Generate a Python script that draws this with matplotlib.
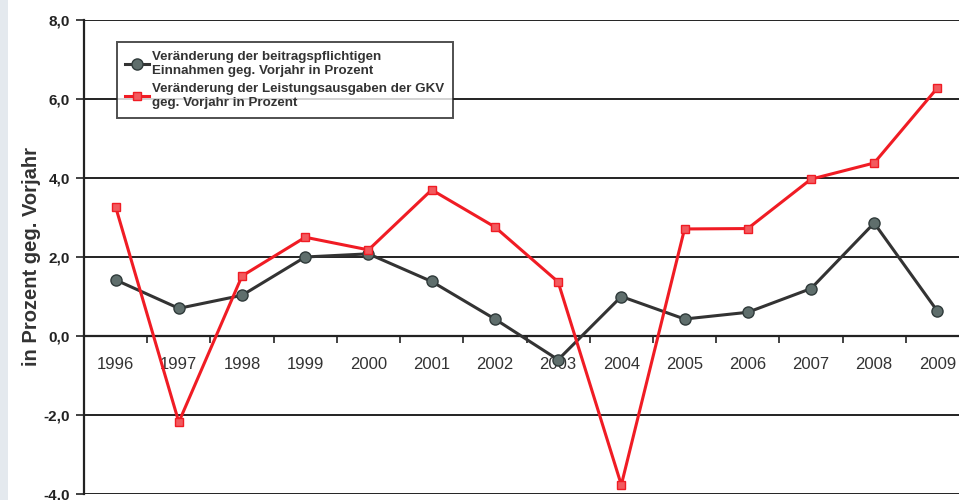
import numpy as np
import matplotlib
matplotlib.use('Agg')
import matplotlib.pyplot as plt
import matplotlib.patches as patches

plt.rcParams['font.family'] = ['Liberation Sans', 'DejaVu Sans']

# data
years = ['1996', '1997', '1998', '1999', '2000', '2001', '2002',
         '2003', '2004', '2005', '2006', '2007', '2008', '2009']
einnahmen = [1.42, 0.70, 1.03, 2.00, 2.08, 1.38, 0.43,
             -0.60, 1.00, 0.43, 0.60, 1.20, 2.86, 0.63]
ausgaben = [3.27, -2.18, 1.52, 2.50, 2.18, 3.70, 2.76,
            1.37, -3.77, 2.71, 2.72, 3.97, 4.38, 6.28]
yticks = [-4, -2, 0, 2, 4, 6, 8]
ytick_labels = ['-4,0', '-2,0', '0,0', '2,0', '4,0', '6,0', '8,0']
label_ein = 'Veränderung der beitragspflichtigen\nEinnahmen geg. Vorjahr in Prozent'
label_aus = 'Veränderung der Leistungsausgaben der GKV\ngeg. Vorjahr in Prozent'

fig = plt.figure(figsize=(9.59, 5.0), dpi=100)
# pale strip on the left edge of the scan
fig.patches.append(patches.Rectangle((0, 0), 8 / 959., 1, transform=fig.transFigure,
                                     facecolor='#e4e9ee', edgecolor='none', zorder=0))

# axes run past the right edge like in the cropped scan
ax = fig.add_axes([84 / 959., 6 / 500., 885 / 959., 474 / 500.])
x = np.arange(len(years))

for yv in yticks:
    if yv != 0:
        ax.axhline(yv, color='#222222', lw=1.4, zorder=1)

ax.plot(x, einnahmen, color='#333333', lw=2.2, marker='o', ms=8,
        markerfacecolor='#5f6e6c', markeredgecolor='#2f3a3a', label=label_ein, zorder=3)
ax.plot(x, ausgaben, color='#f01c24', lw=2.2, marker='s', ms=6,
        markerfacecolor='#f25a5e', markeredgecolor='#f01c24', label=label_aus, zorder=4)

ax.set_xlim(-0.5, len(years) - 0.5)
ax.set_ylim(-4, 8)
ax.set_yticks(yticks)
ax.set_yticklabels(ytick_labels, fontsize=11, fontweight='bold', color='#222222')
ax.tick_params(axis='y', length=6, width=1.2, color='#222222', pad=4)

ax.spines['top'].set_visible(False)
ax.spines['right'].set_visible(False)
ax.spines['left'].set_linewidth(1.6)
ax.spines['left'].set_color('#222222')
ax.spines['bottom'].set_position(('data', 0))
ax.spines['bottom'].set_linewidth(1.6)
ax.spines['bottom'].set_color('#222222')

ax.set_xticks(x)
ax.set_xticklabels(years, fontsize=12, color='#333333')
ax.set_xticks(np.arange(0.5, len(years) - 0.5, 1), minor=True)
ax.tick_params(axis='x', which='major', length=0, pad=15)
ax.tick_params(axis='x', which='minor', length=5, width=1.2, color='#222222', direction='out')

ax.set_ylabel('in Prozent geg. Vorjahr', fontsize=14.5, fontweight='bold',
              color='#333333', labelpad=2)

leg = ax.legend(loc='upper left', bbox_to_anchor=(0.037, 0.953), fontsize=9.6,
                frameon=True, fancybox=False, handlelength=1.8, handletextpad=0.2,
                borderpad=0.65, labelspacing=0.5, borderaxespad=0)
leg.get_frame().set_edgecolor('#222222')
leg.get_frame().set_linewidth(1.4)
for t in leg.get_texts():
    t.set_fontweight('bold')
    t.set_color('#333333')

plt.savefig('out.png', dpi=100)
plt.close('all')
